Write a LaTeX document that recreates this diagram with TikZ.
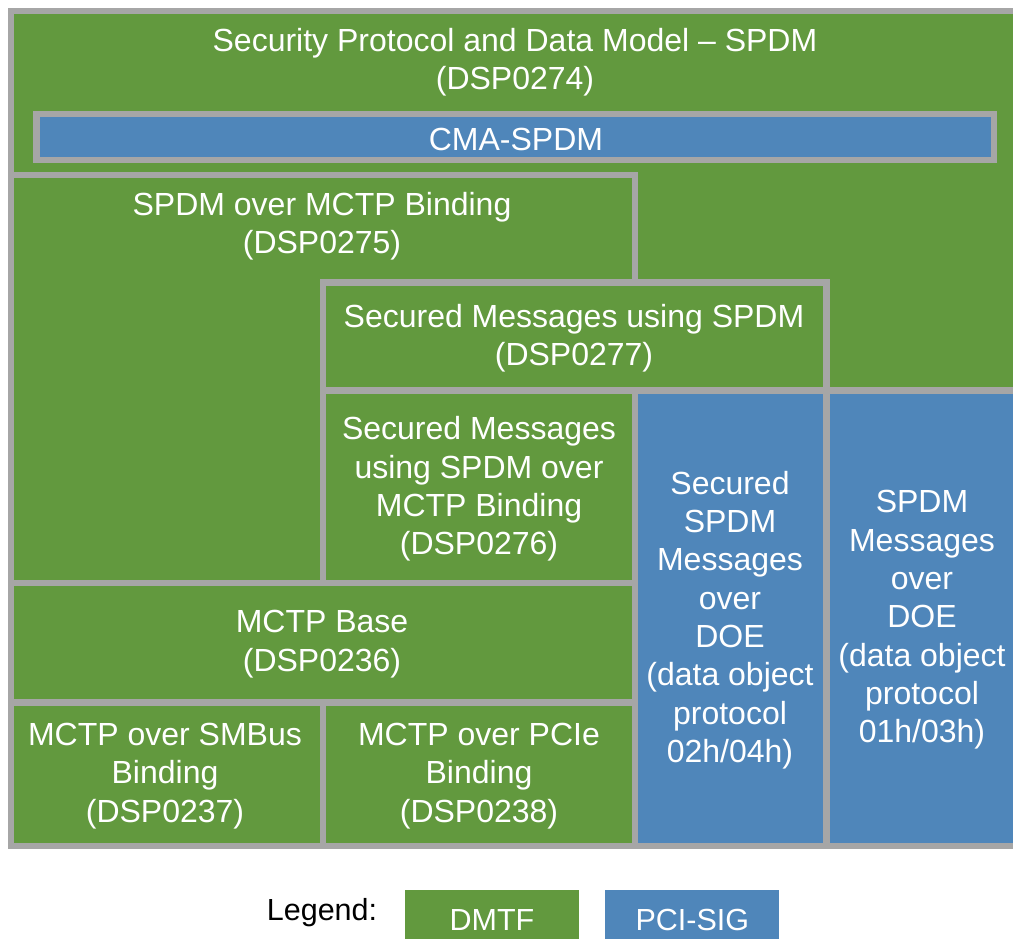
\documentclass[tikz,border=0pt]{standalone}
\usepackage{fontspec}
\setmainfont{Liberation Sans}
\usetikzlibrary{positioning}
\definecolor{dmtfgreen}{RGB}{98,153,62}
\definecolor{pcisigblue}{RGB}{79,134,186}
\definecolor{edgegray}{RGB}{166,166,166}

\begin{document}
\begin{tikzpicture}[x=1pt,y=-1pt,
  dmtf/.style={
    draw=edgegray,
    line width=6.5pt,
    fill=dmtfgreen
  },
  pcisig/.style={
    draw=edgegray,
    line width=6.5pt,
    fill=pcisigblue
  },
  spec/.style={
    align=center,
    text=white,
    inner sep=0pt,
    font=\fontsize{32}{38.3}\selectfont
  },
  legendbox/.style={
    minimum width=174pt,
    minimum height=60pt,
    anchor=north,
    text=white,
    text depth=0pt,
    font=\fontsize{30.5}{36}\selectfont
  }
]
\useasboundingbox (0,0) rectangle (1013,939);
\clip (0,0) rectangle (1013,939);
% Boxes, drawn from the outside in.
  \path[dmtf] (11,11) rectangle (1019,846);
  \path[pcisig] (36.5,114) rectangle (994,160);
  \path[dmtf] (11,175) rectangle (635,583);
  \path[dmtf] (323,282.5) rectangle (826.5,390.5);
  \path[pcisig] (635,390.5) rectangle (826.5,846);
  \path[pcisig] (826.5,390.5) rectangle (1019,846);
  \path[dmtf] (323,390.5) rectangle (635,583);
  \path[dmtf] (11,583) rectangle (635,702.5);
  \path[dmtf] (11,702.5) rectangle (323,846);
  \path[dmtf] (323,702.5) rectangle (635,846);
% Labels.
\node[spec] (spdm) at (515,62) {Security Protocol and Data Model – SPDM\\(DSP0274)};
  \node[spec] (cma) at (516,139) {CMA-SPDM};
  \node[spec] (mctpbind) at (322,226) {SPDM over MCTP Binding\\(DSP0275)};
  \node[spec] (secured) at (574,338) {Secured Messages using SPDM\\(DSP0277)};
  \node[spec] (securedmctp) at (479,489) {Secured Messages\\using SPDM over\\MCTP Binding\\(DSP0276)};
  \node[spec] (mctpbase) at (322,644) {MCTP Base\\(DSP0236)};
  \node[spec] (smbus) at (165,776) {MCTP over SMBus\\Binding\\(DSP0237)};
  \node[spec] (pcie) at (479,776) {MCTP over PCIe\\Binding\\(DSP0238)};
  \node[spec] (securedoe) at (730,620) {Secured\\SPDM\\Messages\\over\\DOE\\(data object\\protocol\\02h/04h)};
  \node[spec] (spdmdoe) at (922,620) {SPDM\\Messages\\over\\DOE\\(data object\\protocol\\01h/03h)};
% Legend.
\node[font=\fontsize{30.5}{36}\selectfont] (legend) at (322,913) {Legend:};
  \node[legendbox,fill=dmtfgreen] (dmtfkey) at (492,890) {DMTF};
  \node[legendbox,fill=pcisigblue,right=26pt of dmtfkey.north east,anchor=north west] (pcikey) {PCI-SIG};
\end{tikzpicture}
\end{document}
